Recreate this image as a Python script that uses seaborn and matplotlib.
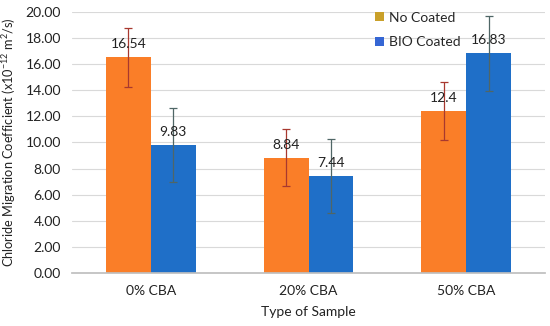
import matplotlib
matplotlib.use("Agg")
import matplotlib.pyplot as plt
import pandas as pd
import seaborn as sns
from matplotlib.patches import Patch

samples = ["0% CBA", "20% CBA", "50% CBA"]
no_coated = [16.54, 8.84, 12.4]
bio_coated = [9.83, 7.44, 16.83]
no_coated_err = [2.25, 2.2, 2.2]
bio_coated_err = [2.85, 2.85, 2.85]
value_labels = {"No Coated": ["16.54", "8.84", "12.4"], "BIO Coated": ["9.83", "7.44", "16.83"]}

bar_colors = {"No Coated": "#FA7E28", "BIO Coated": "#1F6FC8"}
legend_colors = {"No Coated": "#C9A02A", "BIO Coated": "#3566D4"}
err_colors = {"No Coated": "#A8382F", "BIO Coated": "#4F6666"}

df = pd.DataFrame({
    "Sample": samples * 2,
    "Value": no_coated + bio_coated,
    "Err": no_coated_err + bio_coated_err,
    "Series": ["No Coated"] * 3 + ["BIO Coated"] * 3,
})

sns.set_theme(style="white")
plt.rcParams["font.family"] = ["Lato", "DejaVu Sans"]

fig = plt.figure(figsize=(5.5, 3.26), dpi=100)
ax = fig.add_axes([0.131, 0.163, 0.86, 0.8])

sns.barplot(data=df, x="Sample", y="Value", hue="Series", order=samples,
            hue_order=["No Coated", "BIO Coated"], palette=bar_colors,
            width=0.57, gap=0, saturation=1, errorbar=None, linewidth=0, ax=ax)

for container, series in zip(ax.containers, ["No Coated", "BIO Coated"]):
    sub = df[df["Series"] == series].set_index("Sample").loc[samples]
    xs = [b.get_x() + b.get_width() / 2 for b in container]
    ax.errorbar(xs, sub["Value"], yerr=sub["Err"], fmt="none",
                ecolor=err_colors[series], elinewidth=0.9, capsize=3, capthick=0.9, zorder=4)
    for x, v, lab in zip(xs, sub["Value"], value_labels[series]):
        ax.annotate(lab, (x, v), xytext=(0, 5), textcoords="offset points",
                    ha="center", va="bottom", fontsize=10, color="#222222", zorder=5)

ax.set_xlim(-0.5, 2.5)
ax.set_ylim(0, 20)
ax.set_yticks(range(0, 21, 2))
ax.set_yticklabels([f"{t:.2f}" for t in range(0, 21, 2)])
ax.yaxis.grid(True, color="#D9D9D9", linewidth=0.8)
ax.set_axisbelow(True)
for s in ["top", "right", "left"]:
    ax.spines[s].set_visible(False)
ax.spines["bottom"].set_color("#BFBFBF")
ax.tick_params(axis="both", length=0, labelsize=10, colors="#222222", pad=8)
ax.tick_params(axis="x", pad=9)

ax.set_xlabel("Type of Sample", fontsize=10, color="#222222", labelpad=6)
ax.set_ylabel("Chloride Migration Coefficient (x10$^{\\mathregular{-12}}$ m$^{\\mathregular{2}}$/s)",
              fontsize=9.2, color="#222222", labelpad=5)

handles = [Patch(facecolor=legend_colors[k], edgecolor="none") for k in ["No Coated", "BIO Coated"]]
ax.legend(handles, ["No Coated", "BIO Coated"], loc="upper left", bbox_to_anchor=(0.615, 1.05),
          frameon=False, fontsize=10, handlelength=0.6, handleheight=0.6, handletextpad=0.4,
          labelspacing=0.9)

fig.savefig("out.png", dpi=100)
